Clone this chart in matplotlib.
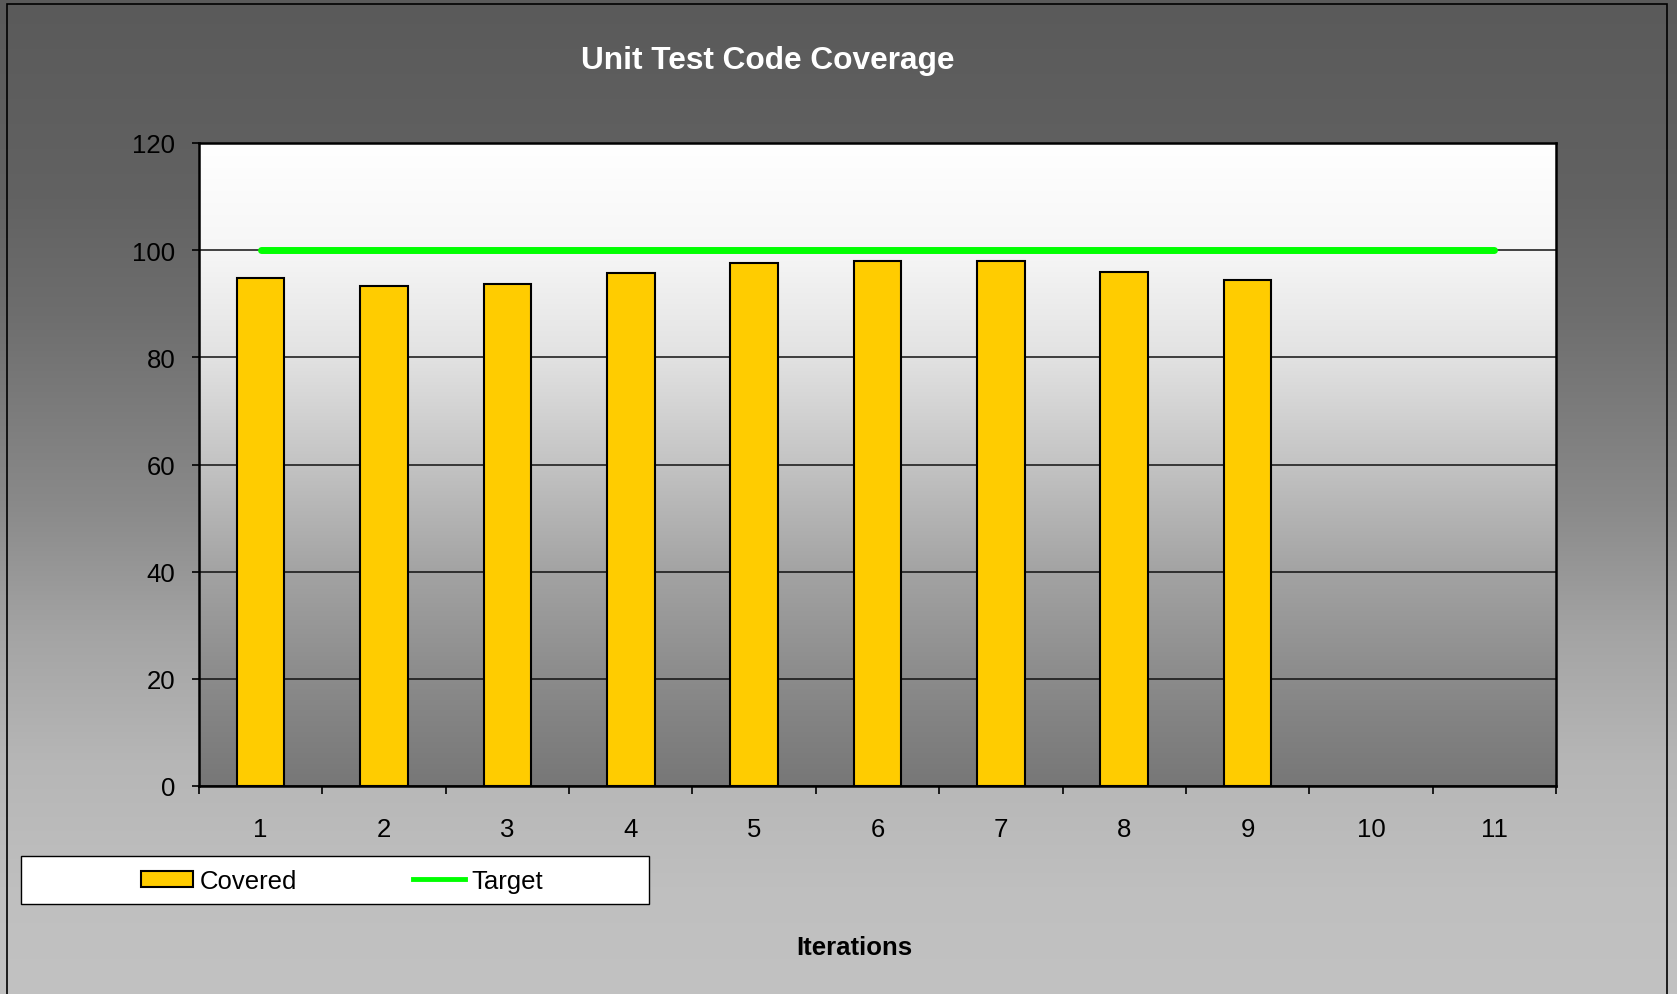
import matplotlib.pyplot as plt
import numpy as np
from matplotlib.lines import Line2D
from matplotlib.patches import Patch, Rectangle

plt.rcParams['font.family'] = ['Liberation Sans', 'DejaVu Sans']

# Data
iterations = [1, 2, 3, 4, 5, 6, 7, 8, 9, 10, 11]
covered = [94.8, 93.4, 93.6, 95.8, 97.6, 98.0, 98.0, 96.0, 94.4]
target = [100] * 11
y_ticks = [0, 20, 40, 60, 80, 100, 120]

W, H, DPI = 1677, 995, 100
fig = plt.figure(figsize=(W / DPI, H / DPI), dpi=DPI)


def grey_strip(values):
    # vertical grey gradient as an RGB image
    v = np.asarray(values)[:, None, None]
    return np.repeat(np.repeat(v, 3, axis=2), 4, axis=1)


# figure background gradient (dark top -> light bottom)
bg = fig.add_axes([0, 0, 1, 1], zorder=-10)
rows = np.arange(H)
shade = np.interp(rows, [0, 200, 317, 508, 635, 761, 888, 995],
                  [0x5a, 0x62, 0x6e, 0x8a, 0xa4, 0xb6, 0xbf, 0xc2]) / 255
bg.imshow(grey_strip(shade), aspect='auto', extent=[0, 1, 0, 1],
          origin='upper', interpolation='bilinear')
bg.set_xlim(0, 1)
bg.set_ylim(0, 1)
bg.axis('off')
# outer frame
bg.add_patch(Rectangle((7 / W, -0.01), (1667 - 7) / W, 1 - 5 / H + 0.01,
                       fill=False, edgecolor='black', lw=1.2,
                       transform=bg.transAxes))

ax = fig.add_axes([199 / W, 1 - 787 / H, (1556 - 199) / W, (787 - 144) / H], zorder=1)

# plot area gradient (white top -> grey bottom)
yv = np.linspace(120, 0, 400)
pshade = np.interp(yv, [0, 20, 40, 60, 80, 100, 120],
                   [0x77, 0x8b, 0xa3, 0xc3, 0xe2, 0xf6, 0xff]) / 255
ax.imshow(grey_strip(pshade), aspect='auto', extent=[0.5, 11.5, 0, 120],
          origin='upper', interpolation='bilinear', zorder=0.1)

ax.bar(iterations[:len(covered)], covered, width=0.386, color='#ffcc00',
       edgecolor='black', linewidth=1.5, zorder=3)
ax.plot(iterations, target, color='#00ff00', linewidth=5,
        solid_capstyle='round', zorder=4)

ax.set_xlim(0.5, 11.5)
ax.set_ylim(0, 120)
ax.set_yticks(y_ticks)
ax.yaxis.grid(True, color='#111111', linewidth=1.1)
ax.set_axisbelow(True)

# category boundaries as major ticks, labels at centres via minor ticks
ax.set_xticks(np.arange(0.5, 12, 1))
ax.set_xticklabels([])
ax.set_xticks(iterations, minor=True)
ax.set_xticklabels([str(i) for i in iterations], minor=True)
ax.tick_params(axis='x', which='major', length=5.5, width=1.2, direction='out')
ax.tick_params(axis='x', which='minor', length=0, pad=22, labelsize=18.5)
ax.tick_params(axis='y', length=5, width=1.2, direction='out', pad=12, labelsize=18.5)

for s in ax.spines.values():
    s.set_linewidth(1.8)
    s.set_color('black')

fig.text(767.5 / W, 1 - 61 / H, 'Unit Test Code Coverage', color='white',
         fontsize=22.8, fontweight='bold', ha='center', va='center')
fig.text(854 / W, 1 - 948 / H, 'Iterations', color='black',
         fontsize=18.5, fontweight='bold', ha='center', va='center')

# legend box
fig.patches.append(Rectangle((21 / W, 1 - 905 / H), 628 / W, 48 / H,
                             facecolor='white', edgecolor='black', lw=1.0,
                             transform=fig.transFigure, zorder=2))
handles = [Patch(facecolor='#ffcc00', edgecolor='black', linewidth=1.5),
           Line2D([], [], color='#00ff00', linewidth=3.5)]
leg = fig.legend(handles, ['Covered', 'Target'], loc='center',
                 bbox_to_anchor=(342 / W, 1 - 882 / H),
                 ncol=2, frameon=False, fontsize=18.5, handlelength=2.05,
                 handleheight=0.6, handletextpad=0.25, columnspacing=4.5)
leg.set_zorder(3)

fig.savefig('out.png', dpi=DPI)
